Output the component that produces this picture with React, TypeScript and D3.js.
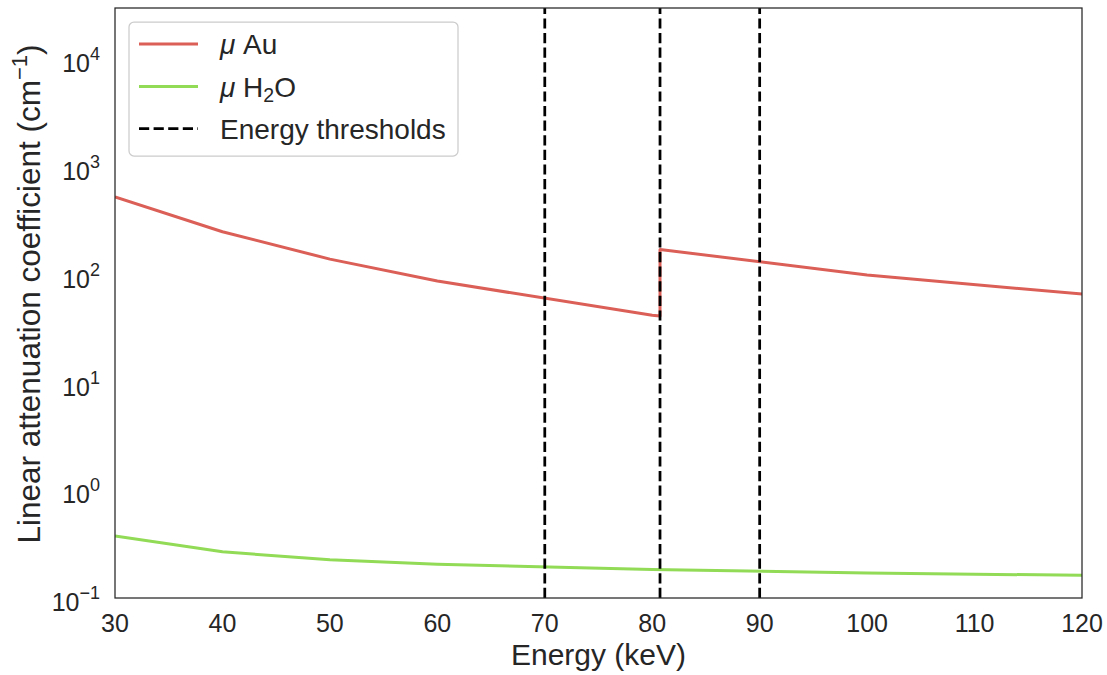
import React from "react";
import * as d3 from "d3";

const energyAu = [30, 40, 50, 60, 80, 80.725, 80.725, 100, 150];
const muAu = [530, 251, 140, 87.5, 42.2, 41.4, 172, 99.65, 35.9];
const energyH2O = [30, 40, 50, 60, 80, 100, 150];
const muH2O = [0.3756, 0.2683, 0.2269, 0.2059, 0.1837, 0.1707, 0.1505];
const thresholds = [70, 80.725, 90];
const xTicks = [30, 40, 50, 60, 70, 80, 90, 100, 110, 120];
const yTicks = [0.1, 1, 10, 100, 1000, 10000];

const W = 1107, H = 675;
const L = 115, T = 8, R = 1082, B = 598;
const RED = "#db5f57", GREEN = "#91db57";
const FONT = "'Liberation Sans', Arial, sans-serif";
const DASH = "10.2 4.4";

export default function App() {
  const x = d3.scaleLinear().domain([30, 120]).range([L, R]);
  const y = d3.scaleLog().domain([0.1, 30000]).range([B, T]);
  const line = d3.line<[number, number]>().x(d => x(d[0])).y(d => y(d[1]));
  const auPts = energyAu.map((e, i) => [e, muAu[i]] as [number, number]);
  const h2oPts = energyH2O.map((e, i) => [e, muH2O[i]] as [number, number]);

  return (
    <svg width={W} height={H} style={{ position: "absolute", left: 0, top: 0, background: "#fff" }} fontFamily={FONT}>
      <defs>
        <clipPath id="plot"><rect x={L} y={T} width={R - L} height={B - T} /></clipPath>
      </defs>
      <g clipPath="url(#plot)">
        <path d={line(auPts) || ""} fill="none" stroke={RED} strokeWidth={3} strokeLinejoin="round" />
        <path d={line(h2oPts) || ""} fill="none" stroke={GREEN} strokeWidth={3} strokeLinejoin="round" />
        {thresholds.map(t => (
          <line key={t} x1={x(t)} x2={x(t)} y1={B} y2={T} stroke="#000" strokeWidth={2.75} strokeDasharray={DASH} />
        ))}
      </g>
      <rect x={L} y={T} width={R - L} height={B - T} fill="none" stroke="#262626" strokeWidth={1.25} />
      {xTicks.map(t => (
        <text key={t} x={x(t)} y={632} textAnchor="middle" fontSize={25} fill="#262626">{t}</text>
      ))}
      {yTicks.map(t => {
        const ex = Math.round(Math.log10(t));
        return (
          <text key={t} x={100} y={y(t) + 13} textAnchor="end" fontSize={25} fill="#262626">
            10<tspan dy={-12} fontSize={18}>{ex < 0 ? "\u2212" + Math.abs(ex) : ex}</tspan>
          </text>
        );
      })}
      <text x={(L + R) / 2} y={665} textAnchor="middle" fontSize={30} fill="#262626">Energy (keV)</text>
      <text transform={`translate(40,${(T + B) / 2 - 9}) rotate(-90)`} textAnchor="middle" fontSize={31.5} fill="#262626">
        Linear attenuation coefficient (cm<tspan dy={-13} fontSize={22}>{"\u22121"}</tspan><tspan dy={13}>)</tspan>
      </text>
      <g>
        <rect x={129} y={22} width={329} height={134} rx={5} fill="#fff" fillOpacity={0.8} stroke="#cccccc" strokeWidth={1.25} />
        <line x1={139} x2={198} y1={44} y2={44} stroke={RED} strokeWidth={3} />
        <line x1={139} x2={198} y1={86.5} y2={86.5} stroke={GREEN} strokeWidth={3} />
        <line x1={139} x2={198} y1={128.5} y2={128.5} stroke="#000" strokeWidth={2.75} strokeDasharray={DASH} />
        <text x={220} y={54} fontSize={28} fill="#262626"><tspan fontStyle="italic">{"\u03bc"}</tspan> Au</text>
        <text x={220} y={96.5} fontSize={28} fill="#262626"><tspan fontStyle="italic">{"\u03bc"}</tspan> H<tspan dy={5} fontSize={19.5}>2</tspan><tspan dy={-5}>O</tspan></text>
        <text x={220} y={138.5} fontSize={28} fill="#262626">Energy thresholds</text>
      </g>
    </svg>
  );
}
